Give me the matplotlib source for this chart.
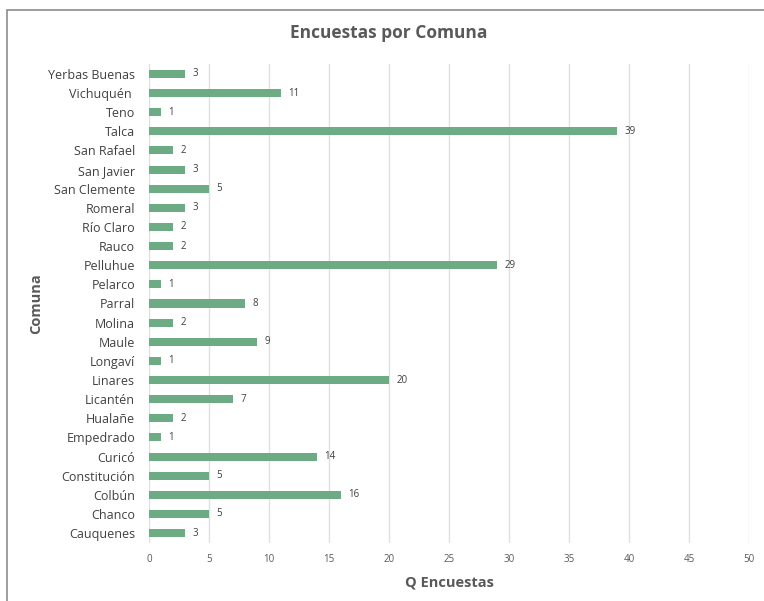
import matplotlib.pyplot as plt
from matplotlib.patches import Rectangle

# datos (de abajo hacia arriba)
comunas = ["Cauquenes", "Chanco", "Colbún", "Constitución", "Curicó", "Empedrado",
           "Hualañe", "Licantén", "Linares", "Longaví", "Maule", "Molina", "Parral",
           "Pelarco", "Pelluhue", "Rauco", "Río Claro", "Romeral", "San Clemente",
           "San Javier", "San Rafael", "Talca", "Teno", "Vichuquén ", "Yerbas Buenas"]
encuestas = [3, 5, 16, 5, 14, 1, 2, 7, 20, 1, 9, 2, 8, 1, 29, 2, 2, 3, 5, 3, 2, 39, 1, 11, 3]
xticks = [0, 5, 10, 15, 20, 25, 30, 35, 40, 45, 50]

plt.rcParams['font.family'] = ['Open Sans', 'DejaVu Sans']

fig = plt.figure(figsize=(7.64, 6.01), dpi=100)

# marco del grafico
fig.patches.append(Rectangle((7 / 764, -0.1), 1.2, 1 - 10 / 601 + 0.1,
                             transform=fig.transFigure, fill=False,
                             edgecolor='#8c8c8c', linewidth=1.2))

ax = fig.add_axes([149 / 764, 1 - 542.6 / 601, 600 / 764, (542.6 - 64.4) / 601])

ypos = list(range(len(comunas)))
ax.barh(ypos, encuestas, height=0.42, color='#6dab84', zorder=3)

for y, v in zip(ypos, encuestas):
    ax.text(v + 0.6, y, str(v), va='center', ha='left', fontsize=7, color='#404040')

ax.set_xlim(0, 50)
ax.set_ylim(-0.5, len(comunas) - 0.5)
ax.set_xticks(xticks)
ax.set_yticks(ypos)
ax.set_yticklabels(comunas, fontsize=9, color='#404040')
ax.tick_params(axis='x', labelsize=7, colors='#595959', length=0, pad=8)
ax.tick_params(axis='y', length=0, pad=10)

ax.grid(axis='x', color='#e0e0e0', linewidth=1, zorder=0)
for s in ax.spines.values():
    s.set_visible(False)

ax.set_xlabel("Q Encuestas", fontsize=10.5, fontweight='bold', color='#595959', labelpad=8)
ax.set_ylabel("Comuna", fontsize=10.5, fontweight='bold', color='#595959')
ax.yaxis.set_label_coords(-106 / 600, 0.5)

fig.text(389 / 764, 1 - 33 / 601, "Encuestas por Comuna", ha='center', va='center',
         fontsize=12.5, fontweight='bold', color='#595959')

fig.savefig("out.png", dpi=100)
